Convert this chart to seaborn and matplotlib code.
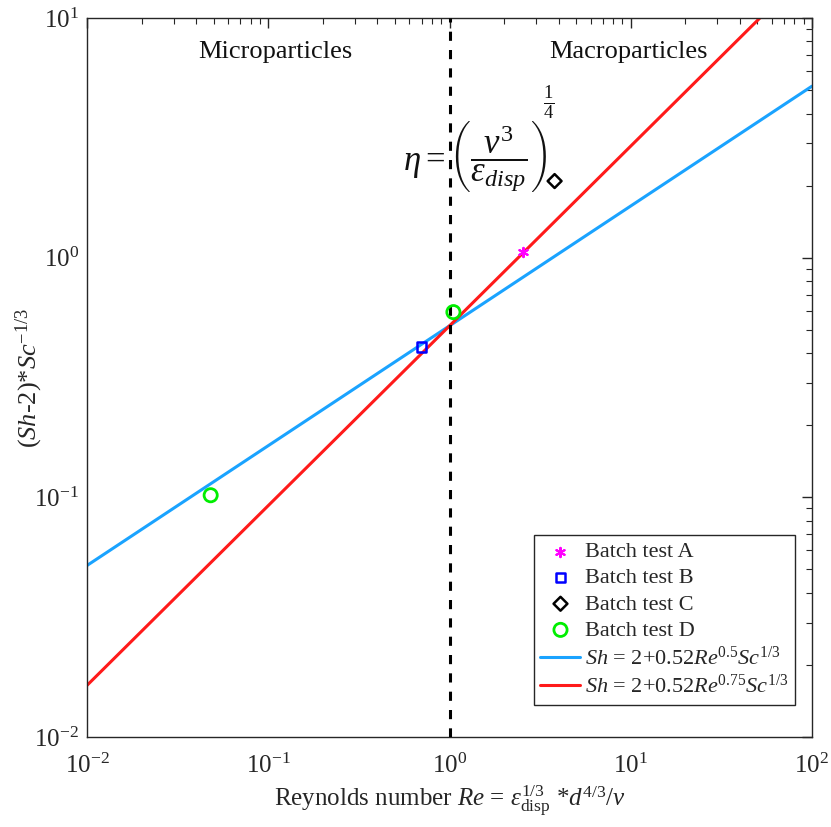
import numpy as np
import pandas as pd
import matplotlib
matplotlib.use("Agg")
import matplotlib.pyplot as plt
import seaborn as sns

# Data
re_line = [0.01, 0.1, 1.0, 10.0, 100.0]
fit_coef = 0.52
exp_blue = 0.5
exp_red = 0.75
blue_vals = [fit_coef * r ** exp_blue for r in re_line]
red_vals = [fit_coef * r ** exp_red for r in re_line]

test_a_x = [2.55]
test_a_y = [1.06]
test_b_x = [0.70]
test_b_y = [0.424]
test_c_x = [3.8]
test_c_y = [2.09]
test_d_x = [0.048, 1.05]
test_d_y = [0.102, 0.593]

sns.set_theme(style="white")
plt.rcParams['font.family'] = ['Liberation Serif', 'DejaVu Serif']
plt.rcParams['mathtext.fontset'] = 'custom'
plt.rcParams['mathtext.rm'] = 'Liberation Serif'
plt.rcParams['mathtext.it'] = 'Liberation Serif:italic'
plt.rcParams['mathtext.bf'] = 'Liberation Serif:bold'
plt.rcParams['axes.unicode_minus'] = False

fig = plt.figure(figsize=(8.31, 8.27), dpi=100)
ax = fig.add_axes([0.105, 0.109, 0.872, 0.869])

lines_df = pd.DataFrame({"Re": re_line * 2,
                         "val": blue_vals + red_vals,
                         "fit": ["blue"] * len(re_line) + ["red"] * len(re_line)})

ax.set_xscale("log")
ax.set_yscale("log")

sns.scatterplot(x=test_a_x, y=test_a_y, ax=ax, marker=(6, 2, 0), s=45, color="#ff00ff",
                linewidth=1.5, edgecolor="#ff00ff", label="Batch test A", zorder=5)
sns.scatterplot(x=test_b_x, y=test_b_y, ax=ax, marker="s", s=45, facecolor="none",
                edgecolor="#0000ff", linewidth=1.8, label="Batch test B", zorder=5)
sns.scatterplot(x=test_c_x, y=test_c_y, ax=ax, marker="D", s=50, facecolor="none",
                edgecolor="black", linewidth=1.8, label="Batch test C", zorder=5)
sns.scatterplot(x=test_d_x, y=test_d_y, ax=ax, marker="o", s=90, facecolor="none",
                edgecolor="#00ee00", linewidth=2.0, label="Batch test D", zorder=5)
sns.lineplot(data=lines_df[lines_df.fit == "blue"], x="Re", y="val", ax=ax, color="#1aa3ff",
             linewidth=2.2, label=r"$Sh$ = 2+0.52$Re^{0.5}Sc^{1/3}$")
sns.lineplot(data=lines_df[lines_df.fit == "red"], x="Re", y="val", ax=ax, color="#ff1a1a",
             linewidth=2.2, label=r"$Sh$ = 2+0.52$Re^{0.75}Sc^{1/3}$")

ax.axvline(1.0, color="black", linestyle=(0, (3, 3)), linewidth=2.2, zorder=4)

ax.set_xlim(1e-2, 1e2)
ax.set_ylim(1e-2, 1e1)

ax.tick_params(which="both", direction="in", top=True, right=True, labelsize=18,
               colors="#262626")
ax.tick_params(axis="x", pad=12)
ax.tick_params(axis="y", pad=6)
ax.tick_params(which="major", length=7, width=1)
ax.tick_params(which="minor", length=4, width=0.8)
for s in ax.spines.values():
    s.set_color("#262626")
    s.set_linewidth(1)

ax.set_xlabel(r"Reynolds number $Re$ = $\epsilon_{\rm disp}^{1/3}$ *$d^{4/3}/\nu$",
              fontsize=18, color="#262626", labelpad=4)
ax.set_ylabel(r"($Sh$-2)*$Sc^{-1/3}$", fontsize=19, color="#262626")
ax.yaxis.set_label_coords(-0.058, 0.5)

ax.text(275 / 831, 1 - 52 / 827, "Microparticles", transform=fig.transFigure,
        fontsize=19, ha="center", va="center", color="#111111")
ax.text(628 / 831, 1 - 52 / 827, "Macroparticles", transform=fig.transFigure,
        fontsize=19, ha="center", va="center", color="#111111")
ax.text(403 / 831, 1 - 157 / 827,
        r"$\eta = \left(\dfrac{\nu^3}{\epsilon_{disp}}\right)$",
        transform=fig.transFigure, fontsize=25, ha="left", va="center", color="#111111")
ax.text(543 / 831, 1 - 103 / 827, r"$\frac{1}{4}$",
        transform=fig.transFigure, fontsize=19, ha="left", va="center", color="#111111")

leg = ax.legend(loc="lower right", bbox_to_anchor=(0.977, 0.0445), fontsize=16,
                frameon=True, fancybox=False,
                edgecolor="#262626", framealpha=1, borderpad=0.3, labelspacing=0.25,
                handlelength=1.8, handletextpad=0.2, borderaxespad=0.0)
leg.get_frame().set_linewidth(1)

fig.savefig("out.png", dpi=100)
